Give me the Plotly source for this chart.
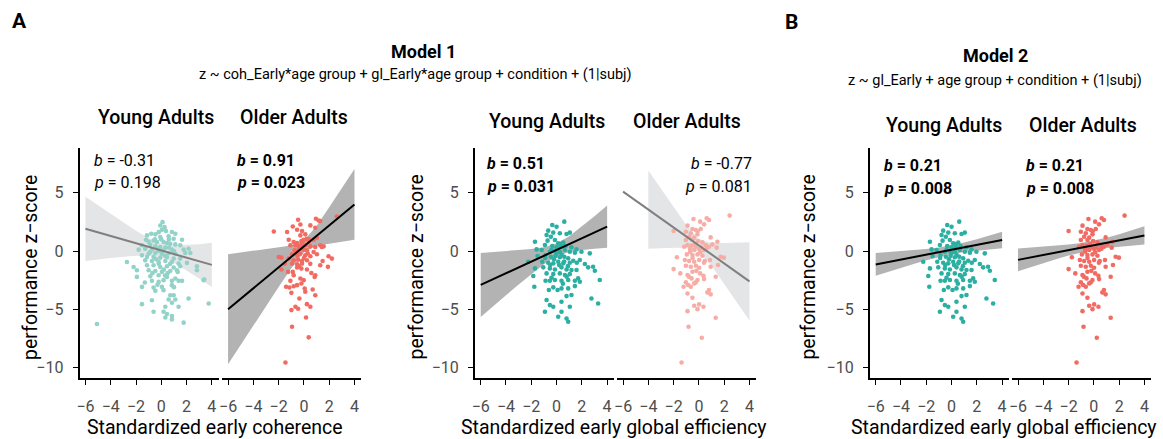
import plotly.graph_objects as go

# ---------------- data ----------------
# Model 1, early coherence (x) vs performance z-score (y)
coh_young_points = [
    (0.1, 2.48), (-0.08, 2.19), (0.26, 2.05), (0.05, 1.82), (-0.21, 1.62), (0.37, 1.71), (-0.79, 1.48),
    (-1.13, 1.34), (-0.47, 1.43), (0.84, 1.63), (1.11, 1.48), (-0.08, 1.2), (0.58, 1.26), (0.98, 1.06),
    (1.64, 0.97), (-1.21, 0.97), (-0.61, 0.91), (-0.34, 0.77), (0.18, 0.77), (0.45, 0.69), (0.71, 0.63),
    (1.11, 0.57), (1.5, 0.49), (-1.53, 0.49), (-0.87, 0.54), (-0.47, 0.4), (-0.08, 0.34), (0.32, 0.29),
    (-1.79, 0.12), (-1.27, 0.2), (-0.74, 0.12), (-0.21, 0.0), (0.18, 0.06), (0.84, 0.12), (1.77, 0.12),
    (2.16, 0.2), (-1.0, -0.23), (-0.47, -0.17), (0.05, -0.23), (0.58, -0.17), (1.11, -0.23), (1.9, -0.17),
    (2.3, -0.17), (-1.53, -0.37), (-1.13, -0.51), (-0.61, -0.51), (-0.08, -0.57), (0.45, -0.51),
    (0.98, -0.65), (1.5, -0.65), (-2.72, -0.94), (-1.27, -0.8), (-0.74, -0.85), (-0.21, -0.94),
    (0.32, -0.85), (0.84, -0.94), (1.37, -1.08), (2.03, -1.02), (-2.19, -1.37), (-1.13, -1.22),
    (-0.61, -1.22), (-0.08, -1.37), (0.45, -1.31), (0.98, -1.42), (1.5, -1.31), (2.82, -1.31),
    (-1.93, -1.65), (-1.0, -1.65), (-0.47, -1.71), (0.05, -1.79), (0.71, -1.71), (1.24, -1.65),
    (2.82, -1.65), (-1.93, -2.22), (-0.87, -2.17), (-0.21, -2.08), (0.45, -2.22), (1.11, -2.36),
    (1.64, -2.56), (0.84, -2.56), (-0.74, -2.56), (-0.21, -2.65), (0.18, -2.5), (3.35, -2.5),
    (-1.53, -3.08), (-0.61, -3.14), (0.05, -3.08), (0.18, -3.36), (-0.47, -3.42), (0.84, -2.93),
    (1.37, -2.56), (0.71, -3.79), (0.98, -3.79), (1.11, -4.16), (0.58, -4.16), (-0.74, -4.22),
    (2.16, -4.08), (-1.53, -4.56), (0.84, -4.44), (1.37, -4.78), (0.32, -4.78), (-0.61, -5.21),
    (0.18, -5.21), (0.45, -5.41), (0.84, -5.58), (0.32, -5.7), (0.84, -5.87), (1.77, -6.15),
    (3.75, -4.5), (3.4, -2.45), (-5.09, -6.27),
    (-0.3, 0.2), (0.6, 0.3), (-0.9, -0.1), (0.3, -0.4), (-0.4, -0.7), (0.7, -1.1), (-0.2, -1.1),
    (0.2, -1.6), (-0.7, -1.9), (0.5, -1.9), (1.0, 0.0), (-1.0, 0.8), (0.0, 1.0), (0.6, 1.0),
    (-0.3, -2.9), (1.0, -3.1), (-1.3, -2.7), (0.3, -2.1), (1.3, -1.8), (-0.5, 1.0),
]
coh_older_points = [
    (-0.46, 2.68), (0.95, 2.77), (1.16, 2.62), (1.29, 2.57), (-0.88, 2.11), (-0.28, 2.28), (0.51, 2.2),
    (0.9, 2.0), (-2.38, 1.68), (-1.33, 1.63), (-0.54, 1.83), (-0.15, 1.71), (0.11, 1.43), (-0.28, 1.34),
    (-1.2, 0.97), (-0.81, 0.77), (-0.54, 0.69), (-0.2, 0.86), (-0.02, 0.97), (0.24, 1.06), (0.77, 0.97),
    (1.03, 1.14), (-1.07, 0.49), (-0.67, 0.49), (-0.41, 0.4), (-0.15, 0.57), (0.11, 0.49), (0.51, 0.4),
    (0.9, 0.34), (1.29, 0.49), (1.42, 0.34), (-0.73, 0.06), (-0.41, 0.12), (-0.02, 0.12), (0.24, 0.06),
    (0.77, -0.08), (-0.94, -0.28), (-0.54, -0.37), (-0.28, -0.23), (0.11, -0.37), (0.51, -0.45),
    (1.03, -0.28), (1.95, -0.45), (2.21, -0.65), (-1.78, -0.57), (-1.2, -0.65), (-0.81, -0.79),
    (-0.46, -0.74), (-0.15, -0.85), (0.24, -0.79), (1.48, -0.85), (-0.94, -1.08), (-0.54, -1.14),
    (-0.15, -1.08), (1.29, -1.22), (1.9, -1.36), (-1.78, -1.59), (-1.25, -1.79), (-0.88, -1.79),
    (-0.81, -2.08), (-0.54, -1.42), (-0.2, -1.51), (0.24, -1.59), (0.59, -1.88), (0.9, -2.08),
    (0.85, -2.22), (-1.07, -2.56), (-0.28, -2.36), (-0.02, -2.5), (-0.2, -2.79), (-1.41, -3.07),
    (-1.15, -3.13), (-0.81, -3.02), (-0.54, -2.93), (0.06, -3.22), (-0.99, -3.59), (0.11, -3.5),
    (0.69, -3.3), (0.9, -3.79), (-0.36, -4.07), (0.24, -4.56), (0.51, -4.78), (-0.67, -4.78),
    (-0.46, -4.96), (-0.99, -5.07), (0.17, -5.7), (-0.94, -6.5), (0.38, -7.41), (-1.46, -9.57),
    (2.61, 2.97), (-1.99, -0.51), (-1.51, -1.08), (1.56, 0.4), (0.38, 0.77),
    (-0.3, 0.2), (0.3, -0.2), (-0.6, -0.1), (0.0, -0.6), (-0.4, -1.3), (0.5, -1.1), (-0.1, 0.8), (0.4, 1.0),
]
# Models 1 and 2, early global efficiency (x) vs performance z-score (y)
gl_young_points = [
    (0.61, 2.52), (-0.34, 2.23), (0.0, 2.09), (-0.66, 1.75), (-0.26, 1.58), (-0.79, 1.38), (-0.45, 1.23),
    (0.26, 1.52), (0.79, 1.46), (1.05, 1.58), (-1.71, 0.8), (-0.71, 0.89), (-0.13, 0.95), (0.13, 0.66),
    (0.53, 0.72), (-0.92, 0.52), (-0.34, 0.43), (0.0, 0.32), (0.34, 0.37), (0.71, 0.43), (1.18, 0.32),
    (1.58, 0.14), (-1.58, 0.14), (-1.18, 0.09), (-0.53, -0.06), (-0.13, 0.03), (0.26, -0.06), (0.66, 0.09),
    (1.05, -0.06), (1.45, -0.14), (1.97, -0.06), (2.63, -0.2), (-1.5, -0.43), (-0.87, -0.34),
    (-0.45, -0.49), (-0.08, -0.43), (0.26, -0.54), (0.61, -0.49), (0.92, -0.63), (1.32, -0.83),
    (1.84, -0.77), (-2.24, -0.92), (-1.13, -0.92), (-0.66, -1.0), (-0.26, -1.06), (0.13, -0.92),
    (0.53, -1.06), (1.05, -1.0), (2.24, -1.12), (2.5, -1.4), (2.89, -1.35), (-1.71, -1.49), (-1.05, -1.4),
    (-0.53, -1.49), (-0.13, -1.58), (0.39, -1.4), (0.79, -1.58), (1.18, -1.63), (1.58, -1.63),
    (3.03, -1.69), (-0.79, -1.92), (-0.26, -1.98), (0.26, -1.92), (0.66, -2.06), (1.05, -1.98),
    (-1.84, -2.15), (1.71, -2.35), (3.42, -2.49), (-0.87, -2.55), (-0.53, -2.55), (-0.13, -2.49),
    (0.39, -2.55), (0.92, -2.49), (1.45, -2.55), (1.84, -2.64), (1.45, -3.01), (-1.76, -3.07),
    (-0.26, -3.12), (0.08, -3.35), (-0.61, -3.35), (0.39, -3.21), (0.92, -3.21), (1.18, -3.78),
    (0.79, -3.87), (-0.79, -4.21), (0.39, -4.36), (2.76, -4.07), (-0.53, -4.64), (-0.26, -4.79),
    (1.05, -4.79), (3.29, -4.5), (0.39, -5.21), (-0.92, -5.21), (0.13, -5.64), (0.79, -5.79), (0.92, -6.07),
    (0.0, -0.2), (-0.4, 0.1), (0.4, -0.3), (-0.2, -0.7), (0.6, -0.9), (-0.5, -1.2), (0.2, -1.2),
    (0.9, -1.3), (-0.9, -0.6), (0.3, 0.6), (0.8, -2.2), (-0.4, -2.3), (0.5, -2.8), (1.6, -1.0),
]
gl_older_points = [
    (2.43, 3.04), (0.62, 2.81), (0.8, 2.66), (-0.43, 2.75), (0.1, 2.52), (0.41, 2.29), (-0.9, 2.18),
    (-0.51, 1.89), (-0.24, 1.81), (0.15, 1.89), (-2.0, 1.72), (-1.03, 1.66), (-0.64, 1.52), (-0.11, 1.43),
    (-0.77, 1.23), (-0.37, 1.15), (0.93, 1.17), (-1.03, 0.95), (-0.51, 0.95), (-0.06, 0.86), (1.46, 0.8),
    (0.28, 0.74), (-0.9, 0.52), (-1.16, 0.37), (-0.58, 0.46), (-0.24, 0.37), (0.54, 0.52), (0.8, 0.37),
    (1.07, 0.57), (1.41, 0.29), (-0.37, 0.09), (0.02, 0.17), (0.41, 0.09), (-0.69, -0.06), (-0.95, -0.29),
    (-0.51, -0.34), (-0.11, -0.29), (0.28, -0.4), (0.88, -0.77), (1.72, -0.49), (1.98, -0.57),
    (-1.74, -0.54), (-1.11, -0.77), (-0.77, -0.86), (-0.37, -0.92), (0.02, -0.77), (0.46, -0.86),
    (-1.03, -1.26), (-0.64, -1.35), (-0.24, -1.26), (0.02, -1.43), (0.93, -1.35), (1.51, -1.2),
    (-2.0, -1.55), (-1.47, -1.92), (-0.9, -2.06), (-0.51, -1.78), (0.1, -1.92), (0.36, -2.12),
    (-0.58, -2.35), (-0.11, -2.49), (0.41, -2.41), (1.33, -2.21), (-0.37, -2.78), (-1.03, -2.69),
    (-0.85, -2.92), (-1.21, -3.07), (-0.64, -3.07), (-0.24, -2.69), (0.8, -3.35), (0.93, -3.72),
    (0.67, -3.55), (-0.9, -3.64), (-0.51, -4.01), (0.02, -4.58), (-0.37, -4.7), (-0.11, -4.99),
    (0.36, -4.79), (-0.9, -5.16), (1.33, -5.73), (-0.82, -6.5), (0.23, -7.45), (-1.37, -9.57),
    (-0.3, 0.6), (0.2, 0.3), (-0.7, 0.2), (0.1, -0.1), (-0.5, -0.6), (0.4, -1.0), (-0.2, -1.7),
    (-0.8, -2.2), (0.6, 0.2), (-0.1, 1.7),
]

# fitted lines (values at x = -6 and x = 4)
fit_x = [-6, 4]
m1_coh_young_fit = [1.91, -1.19]
m1_coh_older_fit = [-5.0, 4.0]
m1_gl_young_fit = [-2.91, 2.09]
m1_gl_older_fit = [5.1, -2.6]
m2_young_fit = [-1.15, 0.95]
m2_older_fit = [-0.76, 1.34]

# confidence bands
band_x = [-6, -5, -4, -3, -2, -1, 0, 1, 2, 3, 4]
m1_coh_young_hi = [4.67, 3.92, 3.18, 2.45, 1.75, 1.11, 0.65, 0.49, 0.51, 0.59, 0.70]
m1_coh_young_lo = [-0.85, -0.72, -0.60, -0.49, -0.41, -0.39, -0.55, -1.01, -1.65, -2.35, -3.08]
m1_coh_older_hi = [-0.28, -0.14, 0.0, 0.14, 0.29, 0.48, 0.91, 2.15, 3.75, 5.39, 7.04]
m1_coh_older_lo = [-9.72, -8.06, -6.4, -4.74, -3.09, -1.48, -0.11, 0.45, 0.65, 0.81, 0.96]
m1_gl_young_hi = [-0.16, -0.09, -0.02, 0.06, 0.17, 0.32, 0.64, 1.27, 2.09, 2.98, 3.9]
m1_gl_young_lo = [-5.66, -4.73, -3.8, -2.88, -1.99, -1.14, -0.46, -0.09, 0.09, 0.2, 0.28]
band_x_short = [-4, -3, -2, -1, 0, 1, 2, 3, 4]
m1_gl_older_hi = [6.92, 5.34, 3.76, 2.23, 1.01, 0.69, 0.68, 0.72, 0.76]
m1_gl_older_lo = [0.2, 0.24, 0.28, 0.27, -0.05, -1.27, -2.8, -4.38, -5.96]
m2_young_hi = [-0.18, -0.1, -0.02, 0.07, 0.18, 0.31, 0.5, 0.73, 1.02, 1.33, 1.66]
m2_young_lo = [-2.12, -1.78, -1.44, -1.11, -0.8, -0.51, -0.28, -0.09, 0.04, 0.15, 0.24]
m2_older_hi = [0.22, 0.29, 0.36, 0.45, 0.55, 0.69, 0.89, 1.15, 1.45, 1.78, 2.12]
m2_older_lo = [-1.74, -1.39, -1.04, -0.71, -0.39, -0.11, 0.11, 0.27, 0.39, 0.48, 0.56]

x_ticks = [-6, -4, -2, 0, 2, 4]
y_ticks = [-10, -5, 0, 5]
facet_labels = ["Young Adults", "Older Adults"]
stat_labels = [
    ("-0.31", "0.198"), ("0.91", "0.023"),
    ("0.51", "0.031"), ("-0.77", "0.081"),
    ("0.21", "0.008"), ("0.21", "0.008"),
]
x_titles = ["Standardized early coherence", "Standardized early global efficiency",
            "Standardized early global efficiency"]
y_title = "performance z\u2212score"

# ---------------- styling / layout ----------------
W, H = 1163, 439
FONT = "Roboto"
TEAL, TEAL_LIGHT = "#2BAFA2", "#93D2C9"
RED, RED_LIGHT = "#F26B63", "#F7ADA5"
BAND_DARK, BAND_LIGHT = "#B3B3B3", "#E4E5E7"
LINE_DARK, LINE_LIGHT = "#000000", "#7F7F7F"

def fx(p):
    return p / W

def fy(p):
    return 1 - p / H

X_RANGE = [-6.47, 4.53]
Y_RANGE = [-10.9, 8.87]
Y_DOM = [fy(378), fy(147.7)]

panels = [
    dict(dom=(76.7, 216.1), pts=coh_young_points, col=TEAL_LIGHT, fit=m1_coh_young_fit, lc=LINE_LIGHT,
         bx=band_x, hi=m1_coh_young_hi, lo=m1_coh_young_lo, bc=BAND_LIGHT, left=True),
    dict(dom=(219.7, 359.1), pts=coh_older_points, col=RED, fit=m1_coh_older_fit, lc=LINE_DARK,
         bx=band_x, hi=m1_coh_older_hi, lo=m1_coh_older_lo, bc=BAND_DARK, left=False),
    dict(dom=(473.0, 612.4), pts=gl_young_points, col=TEAL, fit=m1_gl_young_fit, lc=LINE_DARK,
         bx=band_x, hi=m1_gl_young_hi, lo=m1_gl_young_lo, bc=BAND_DARK, left=True),
    dict(dom=(615.7, 755.1), pts=gl_older_points, col=RED_LIGHT, fit=m1_gl_older_fit, lc=LINE_LIGHT,
         bx=band_x_short, hi=m1_gl_older_hi, lo=m1_gl_older_lo, bc=BAND_LIGHT, left=False),
    dict(dom=(869.0, 1008.4), pts=gl_young_points, col=TEAL, fit=m2_young_fit, lc=LINE_DARK,
         bx=band_x, hi=m2_young_hi, lo=m2_young_lo, bc=BAND_DARK, left=True),
    dict(dom=(1011.7, 1151.1), pts=gl_older_points, col=RED, fit=m2_older_fit, lc=LINE_DARK,
         bx=band_x, hi=m2_older_hi, lo=m2_older_lo, bc=BAND_DARK, left=False),
]

fig = go.Figure()
layout = dict(
    width=W, height=H, margin=dict(l=0, r=0, t=0, b=0),
    paper_bgcolor="white", plot_bgcolor="white", showlegend=False,
    font=dict(family=FONT, color="#000000"),
)

for i, p in enumerate(panels, start=1):
    xa = "x" if i == 1 else f"x{i}"
    ya = "y" if i == 1 else f"y{i}"
    # band
    fig.add_trace(go.Scatter(
        x=p["bx"] + p["bx"][::-1], y=p["hi"] + p["lo"][::-1],
        fill="toself", fillcolor=p["bc"], line=dict(width=0), mode="lines",
        hoverinfo="skip", xaxis=xa, yaxis=ya))
    # points
    fig.add_trace(go.Scatter(
        x=[q[0] for q in p["pts"]], y=[q[1] for q in p["pts"]], mode="markers",
        marker=dict(size=4.6, color=p["col"], line=dict(width=0)),
        xaxis=xa, yaxis=ya))
    # fit line
    fig.add_trace(go.Scatter(
        x=fit_x, y=p["fit"], mode="lines", line=dict(color=p["lc"], width=2),
        xaxis=xa, yaxis=ya))

    layout["xaxis" if i == 1 else f"xaxis{i}"] = dict(
        domain=[fx(p["dom"][0]), fx(p["dom"][1])], range=X_RANGE, anchor=ya,
        tickmode="array", tickvals=x_ticks, showgrid=False, zeroline=False,
        showline=True, linecolor="black", linewidth=1.6,
        ticks="outside", ticklen=5, tickwidth=1.2, tickcolor="black",
        tickfont=dict(family=FONT, size=16, color="#4D4D4D"), ticklabelstandoff=8,
        fixedrange=True)
    layout["yaxis" if i == 1 else f"yaxis{i}"] = dict(
        domain=Y_DOM, range=Y_RANGE, anchor=xa,
        tickmode="array", tickvals=y_ticks, showgrid=False, zeroline=False,
        showline=p["left"], linecolor="black", linewidth=1.6,
        ticks="outside" if p["left"] else "", ticklen=5, tickwidth=1.2, tickcolor="black",
        showticklabels=p["left"],
        tickfont=dict(family=FONT, size=16, color="#4D4D4D"), ticklabelstandoff=6,
        fixedrange=True)

ann = []

def text(x, y, s, size, xanchor="center", angle=0, color="#000000"):
    ann.append(dict(x=fx(x), y=fy(y), xref="paper", yref="paper", text=s, showarrow=False,
                    xanchor=xanchor, yanchor="middle", textangle=angle, borderpad=0,
                    font=dict(family=FONT, size=size, color=color)))

# panel letters and model titles
text(16.7, 21, "<b>A</b>", 21)
text(790.7, 22, "<b>B</b>", 21)
text(421.7, 51.5, "<b>Model 1</b>", 18)
text(414, 75, "z ~ coh_Early*age group + gl_Early*age group + condition + (1|subj)", 14.5)
text(995, 55.5, "<b>Model 2</b>", 18)
text(995, 80.5, "z ~ gl_Early + age group + condition + (1|subj)", 14.5)

# facet strip titles
facet_pos = [(153, 117), (292, 117), (545.7, 122), (686, 122), (943, 125.5), (1082.7, 125.5)]
for k, (x, y) in enumerate(facet_pos):
    text(x, y, f"<span style='font-weight:500'>{facet_labels[k % 2]}</span>", 19.5)

# b / p labels
stat_pos = [(90, 160, "left", False), (233.5, 160, "left", True),
            (484.5, 163.3, "left", True), (752, 163.3, "right", False),
            (881.8, 165.7, "left", True), (1024.5, 165.7, "left", True)]
for (bv, pv), (x, y, anc, bold) in zip(stat_labels, stat_pos):
    s1 = f"<i>b</i> = {bv}"
    s2 = f"<i>p</i> = {pv}"
    if bold:
        s1, s2 = f"<b>{s1}</b>", f"<b>{s2}</b>"
    text(x, y, s1, 16, xanchor=anc)
    text(x, y + 22.7, s2, 16, xanchor=anc)

# axis titles
for x, s in zip([213, 613, 1004], x_titles):
    text(x, 427.5, s, 19.5)
for x in [27, 414.5, 806.7]:
    text(x, 267, y_title, 19.5, angle=-90)

layout["annotations"] = ann
fig.update_layout(**layout)
fig.write_html("out.html")
